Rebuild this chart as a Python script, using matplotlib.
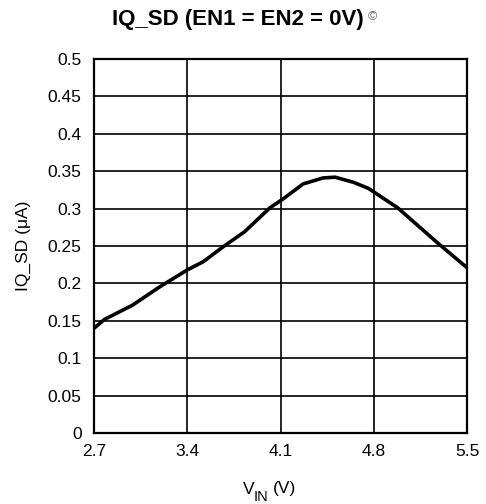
import matplotlib
matplotlib.use("Agg")
import matplotlib.pyplot as plt
import numpy as np

plt.rcParams['font.family'] = ['Liberation Sans', 'DejaVu Sans']

vin = [2.70, 2.78, 2.99, 3.19, 3.40, 3.52, 3.67, 3.83, 4.02, 4.12, 4.27,
       4.42, 4.51, 4.65, 4.76, 4.98, 5.28, 5.50]
iq = [0.140, 0.152, 0.171, 0.195, 0.218, 0.229, 0.249, 0.269, 0.301, 0.313,
      0.333, 0.341, 0.342, 0.335, 0.327, 0.301, 0.254, 0.221]

xticks = [2.7, 3.4, 4.1, 4.8, 5.5]
yticks = [0, 0.05, 0.1, 0.15, 0.2, 0.25, 0.3, 0.35, 0.4, 0.45, 0.5]
ytick_labels = ['0', '0.05', '0.1', '0.15', '0.2', '0.25', '0.3', '0.35', '0.4', '0.45', '0.5']

fig = plt.figure(figsize=(4.86, 5.04), dpi=100)
ax = fig.add_axes([94/486, 71/504, 373/486, 374/504])
ax.plot(vin, iq, color='black', lw=2.6, solid_joinstyle='round')
ax.set_xlim(2.7, 5.5)
ax.set_ylim(0, 0.5)
ax.set_xticks(xticks)
ax.set_xticklabels([f'{t:.1f}' for t in xticks], fontsize=12.5)
ax.set_yticks(yticks)
ax.set_yticklabels(ytick_labels, fontsize=12.5)
ax.tick_params(axis='y', length=0, pad=9)
ax.tick_params(axis='x', length=0, pad=8)
ax.grid(True, color='black', lw=1.2)
for s in ax.spines.values():
    s.set_linewidth(1.6)
ax.set_ylabel('IQ_SD (μA)', fontsize=12.5, labelpad=12)

# x label with large subscript
fig.text(243/486, 1 - 489/504, 'V', fontsize=12.5, ha='left', va='center')
fig.text(254/486, 1 - 497/504, 'IN', fontsize=10.5, ha='left', va='center')
fig.text(273/486, 1 - 489/504, '(V)', fontsize=12.5, ha='left', va='center')

fig.text(238/486, 1 - 20/504, 'IQ_SD (EN1 = EN2 = 0V)', fontsize=16, fontweight='bold',
         ha='center', va='center')
fig.text(368/486, 1 - 17/504, '©', fontsize=9, color='#666666', ha='left', va='center')
fig.savefig('out.png', dpi=100)
